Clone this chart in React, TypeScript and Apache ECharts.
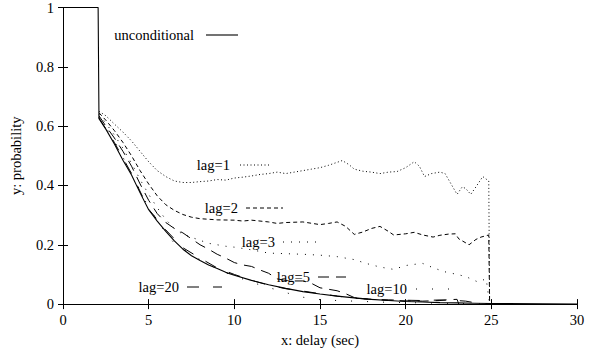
import React, { useEffect, useRef } from "react";
import * as echarts from "echarts";

const xTicks = { min: 0, max: 30, interval: 5 };
const yTicks = { min: 0, max: 1, interval: 0.2 };

const unconditional: number[][] = [
  [0, 1], [2.05, 1], [2.1, 0.625], [2.5, 0.59], [3, 0.54], [3.5, 0.485], [4, 0.435], [4.5, 0.375],
  [5, 0.318], [5.5, 0.28], [6, 0.245], [6.5, 0.213], [7, 0.185], [7.5, 0.163], [8, 0.147], [8.5, 0.132],
  [9, 0.12], [9.5, 0.107], [10, 0.097], [11, 0.08], [12, 0.065], [13, 0.053], [14, 0.042], [15, 0.034],
  [16, 0.027], [17, 0.021], [18, 0.016], [19, 0.012], [20, 0.009], [21, 0.007], [22, 0.005], [23, 0.004],
  [24, 0.003], [25, 0.002], [26, 0.0015], [28, 0.0008], [30, 0.0003],
];

const lag1: number[][] = [
  [2.1, 0.65], [2.5, 0.635], [3, 0.607], [3.5, 0.58], [4, 0.55], [4.5, 0.515], [5, 0.48], [5.5, 0.45],
  [6, 0.43], [6.5, 0.415], [7, 0.41], [7.5, 0.41], [8, 0.413], [8.5, 0.415], [9, 0.42], [9.5, 0.418],
  [10, 0.425], [10.5, 0.428], [11, 0.432], [11.5, 0.437], [12, 0.44], [12.5, 0.445], [13, 0.44],
  [13.5, 0.445], [14, 0.45], [14.5, 0.455], [15, 0.46], [15.5, 0.468], [16, 0.478], [16.3, 0.484],
  [16.7, 0.47], [17, 0.455], [17.5, 0.448], [18, 0.445], [18.5, 0.44], [19, 0.445], [19.5, 0.447],
  [20, 0.46], [20.5, 0.48], [20.8, 0.465], [21.1, 0.43], [21.5, 0.44], [22, 0.445], [22.3, 0.44],
  [22.6, 0.41], [23, 0.37], [23.3, 0.395], [23.5, 0.39], [23.8, 0.37], [24.1, 0.395], [24.5, 0.43],
  [24.85, 0.415], [24.9, 0],
];

const lag2: number[][] = [
  [2.1, 0.645], [2.5, 0.62], [3, 0.585], [3.5, 0.545], [4, 0.5], [4.5, 0.45], [5, 0.405], [5.5, 0.365],
  [6, 0.335], [6.5, 0.316], [7, 0.302], [7.5, 0.293], [8, 0.288], [9, 0.284], [10, 0.283], [10.5, 0.28],
  [11, 0.283], [12, 0.277], [12.5, 0.272], [13, 0.275], [14, 0.277], [15, 0.268], [15.5, 0.272],
  [16, 0.277], [16.5, 0.262], [17, 0.235], [17.5, 0.243], [18, 0.255], [18.5, 0.262], [19, 0.245],
  [19.3, 0.233], [20, 0.237], [20.5, 0.242], [21, 0.233], [21.6, 0.226], [22, 0.232], [22.5, 0.236],
  [22.9, 0.237], [23.1, 0.22], [23.7, 0.2], [24.1, 0.218], [24.4, 0.226], [24.85, 0.233], [24.9, 0],
];

const lag3: number[][] = [
  [2.1, 0.64], [2.5, 0.61], [3, 0.57], [3.5, 0.525], [4, 0.475], [4.5, 0.42], [5, 0.37], [5.5, 0.325],
  [6, 0.285], [6.5, 0.255], [7, 0.235], [7.5, 0.225], [8, 0.215], [8.5, 0.205], [9, 0.2], [9.5, 0.195],
  [10, 0.192], [11, 0.183], [12, 0.172], [13, 0.17], [14, 0.168], [15, 0.165], [16, 0.16], [17, 0.15],
  [17.7, 0.137], [18.5, 0.125], [19.3, 0.117], [20, 0.13], [20.5, 0.134], [21, 0.137], [21.5, 0.125],
  [22.2, 0.11], [23, 0.1], [23.5, 0.093], [24.2, 0.075], [24.7, 0.085], [24.9, 0],
];

const lag5: number[][] = [
  [2.1, 0.635], [2.5, 0.6], [3, 0.56], [3.5, 0.515], [4, 0.465], [4.5, 0.405], [5, 0.35], [5.5, 0.305],
  [6, 0.275], [6.5, 0.255], [7, 0.24], [7.5, 0.22], [8, 0.2], [8.5, 0.185], [9, 0.168], [9.5, 0.155],
  [10, 0.14], [10.5, 0.132], [11, 0.127], [11.5, 0.115], [12, 0.104], [12.5, 0.085], [13, 0.08],
  [13.5, 0.078], [14, 0.078], [14.5, 0.07], [15, 0.055], [15.5, 0.05], [16, 0.045], [16.5, 0.035],
  [17, 0.022], [17.5, 0.018], [18, 0.016], [19, 0.013], [20, 0.011], [21, 0.01], [22, 0.012],
  [22.5, 0.015], [23, 0.016], [23.1, 0],
];

const lag10: number[][] = [
  [2.1, 0.63], [3, 0.55], [4, 0.44], [5, 0.325], [6, 0.24], [6.5, 0.205], [7, 0.185], [8, 0.15],
  [9, 0.118], [10, 0.094], [11, 0.075], [11.7, 0.06], [12.5, 0.048], [13.8, 0.025], [15, 0.015],
  [16, 0.012], [17, 0.01], [18, 0.008], [19, 0.006], [20, 0.005], [21, 0.004], [22, 0.003], [23, 0.002],
  [24, 0.001], [25, 0],
];

const lag20: number[][] = [
  [2.1, 0.628], [3, 0.545], [4, 0.44], [5, 0.32], [6, 0.25], [7, 0.19], [8, 0.155], [9, 0.122],
  [10, 0.1], [11, 0.08], [12, 0.064], [13, 0.052], [14, 0.044], [15, 0.035], [16, 0.027], [17, 0.02],
  [18, 0.016], [19, 0.014], [20, 0.013], [21, 0.012], [22, 0.014], [23, 0.012], [23.5, 0.01],
  [24, 0.005], [25, 0],
];

const seriesNames = ["unconditional", "lag=1", "lag=2", "lag=3", "lag=5", "lag=10", "lag=20"];
const seriesData = [unconditional, lag1, lag2, lag3, lag5, lag10, lag20];
const dashes: (number[] | "solid")[] = ["solid", [1, 2.5], [4, 3], [1, 7], [11, 7], [1, 15], [12, 14]];
const widths = [1.1, 1, 1, 1, 1, 1, 1];

// key placement: [textRightX, lineStartX, lineEndX, y]
const keyPos = [
  [194, 206, 238, 35],
  [230, 240, 271, 165],
  [238, 246, 283, 208],
  [275, 283, 318, 242],
  [310, 318, 346, 277],
  [407, 416, 452, 289],
  [179, 187, 222, 287],
];

const FONT = "'Liberation Serif', 'Times New Roman', 'DejaVu Serif', serif";
const FS = 14.5;

export default function App() {
  const ref = useRef<HTMLDivElement>(null);
  useEffect(() => {
    if (!ref.current) return;
    const chart = echarts.init(ref.current, null, { renderer: "svg" });
    const axisCommon = {
      axisLine: { show: true, lineStyle: { color: "#000", width: 1 } },
      axisTick: { show: true, inside: true, length: 5, lineStyle: { color: "#000" } },
      splitLine: { show: false },
    };
    const graphic: any[] = [];
    seriesNames.forEach((n, i) => {
      const [tx, x1, x2, y] = keyPos[i];
      graphic.push({
        type: "text",
        x: tx,
        y,
        style: {
          text: n,
          fontSize: FS,
          fontFamily: FONT,
          fill: "#000",
          align: "right",
          verticalAlign: "middle",
        },
      });
      graphic.push({
        type: "line",
        shape: { x1, y1: y, x2, y2: y },
        style: {
          stroke: "#000",
          lineWidth: widths[i],
          lineDash: dashes[i] === "solid" ? null : (dashes[i] as number[]),
        },
      });
    });
    chart.setOption({
      animation: false,
      backgroundColor: "#fff",
      grid: { left: 62, right: 15, top: 7, bottom: 44 },
      textStyle: { fontFamily: FONT },
      xAxis: [
        {
          type: "value",
          ...xTicks,
          ...axisCommon,
          position: "bottom",
          name: "x: delay (sec)",
          nameLocation: "middle",
          nameGap: 26,
          nameTextStyle: { color: "#000", fontSize: FS, fontFamily: FONT },
          axisLabel: { color: "#000", fontSize: FS, fontFamily: FONT, margin: 8 },
        },
        {
          type: "value",
          ...xTicks,
          ...axisCommon,
          position: "top",
          axisLabel: { show: false },
        },
      ],
      yAxis: [
        {
          type: "value",
          ...yTicks,
          ...axisCommon,
          position: "left",
          name: "y: probability",
          nameLocation: "middle",
          nameGap: 40,
          nameTextStyle: { color: "#000", fontSize: FS, fontFamily: FONT },
          axisLabel: { color: "#000", fontSize: FS, fontFamily: FONT, margin: 9 },
        },
        {
          type: "value",
          ...yTicks,
          ...axisCommon,
          position: "right",
          axisLabel: { show: false },
        },
      ],
      series: seriesNames.map((n, i) => ({
        name: n,
        type: "line",
        data: seriesData[i],
        xAxisIndex: 0,
        yAxisIndex: 0,
        showSymbol: false,
        symbol: "none",
        lineStyle: { color: "#000", width: widths[i], type: dashes[i] },
        z: 10 - i,
      })),
      graphic,
    });
    return () => chart.dispose();
  }, []);
  return (
    <div
      ref={ref}
      style={{ position: "fixed", left: 0, top: 0, width: 592, height: 352 }}
    />
  );
}
